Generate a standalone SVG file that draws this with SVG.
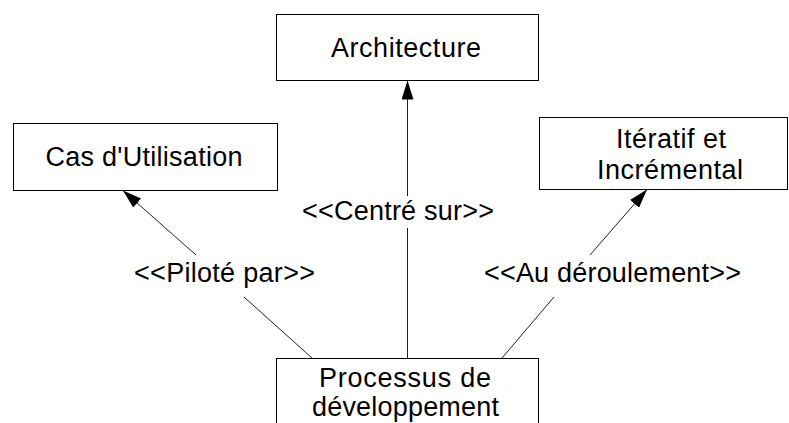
<svg xmlns="http://www.w3.org/2000/svg" width="789" height="423" viewBox="0 0 789 423">
  <style>
    .box { fill: #ffffff; stroke: #000000; stroke-width: 1; }
    .lbl { font-family: "Liberation Sans", Arial, sans-serif; font-size: 27px; fill: #000000; text-anchor: middle; }
    .edge { fill: none; stroke: #222222; stroke-width: 1; }
  </style>
  <defs>
    <marker id="arrow" viewBox="0 0 19 12" refX="19" refY="6" markerWidth="19" markerHeight="12" markerUnits="userSpaceOnUse" orient="auto">
      <path d="M0,0 L19,6 L0,12 z" fill="#000000"/>
    </marker>
  </defs>
  <rect width="789" height="423" fill="#ffffff"/>

  <!-- connectors: each line is broken around its stereotype label -->
  <g id="connectors">
    <path class="edge" d="M312,358 L244,297 M196,255 L123,190.5" marker-end="url(#arrow)"/>
    <path class="edge" d="M407.5,358 L407.5,228 M407.5,196 L407.5,80.5" marker-end="url(#arrow)"/>
    <path class="edge" d="M502,358 L554,297 M590,255 L647,189.5" marker-end="url(#arrow)"/>
    <text class="lbl" x="224.5" y="282" textLength="181" lengthAdjust="spacing">&lt;&lt;Piloté par&gt;&gt;</text>
    <text class="lbl" x="398" y="220" textLength="192" lengthAdjust="spacing">&lt;&lt;Centré sur&gt;&gt;</text>
    <text class="lbl" x="612.5" y="282" textLength="257" lengthAdjust="spacing">&lt;&lt;Au déroulement&gt;&gt;</text>
  </g>

  <g id="architecture">
    <rect class="box" x="276.5" y="14.5" width="262" height="66"/>
    <text class="lbl" x="406" y="57" textLength="150" lengthAdjust="spacing">Architecture</text>
  </g>

  <g id="cas-utilisation">
    <rect class="box" x="13.5" y="123.5" width="264" height="67"/>
    <text class="lbl" x="144" y="166" textLength="197" lengthAdjust="spacing">Cas d'Utilisation</text>
  </g>

  <g id="iteratif">
    <rect class="box" x="539.5" y="117.5" width="248" height="72"/>
    <text class="lbl" x="671" y="148" textLength="110" lengthAdjust="spacing">Itératif et</text>
    <text class="lbl" x="670" y="179" textLength="146" lengthAdjust="spacing">Incrémental</text>
  </g>

  <g id="processus">
    <rect class="box" x="276.5" y="358.5" width="262" height="80"/>
    <text class="lbl" x="405" y="387" textLength="172" lengthAdjust="spacing">Processus de</text>
    <text class="lbl" x="405.5" y="416" textLength="187" lengthAdjust="spacing">développement</text>
  </g>
</svg>
